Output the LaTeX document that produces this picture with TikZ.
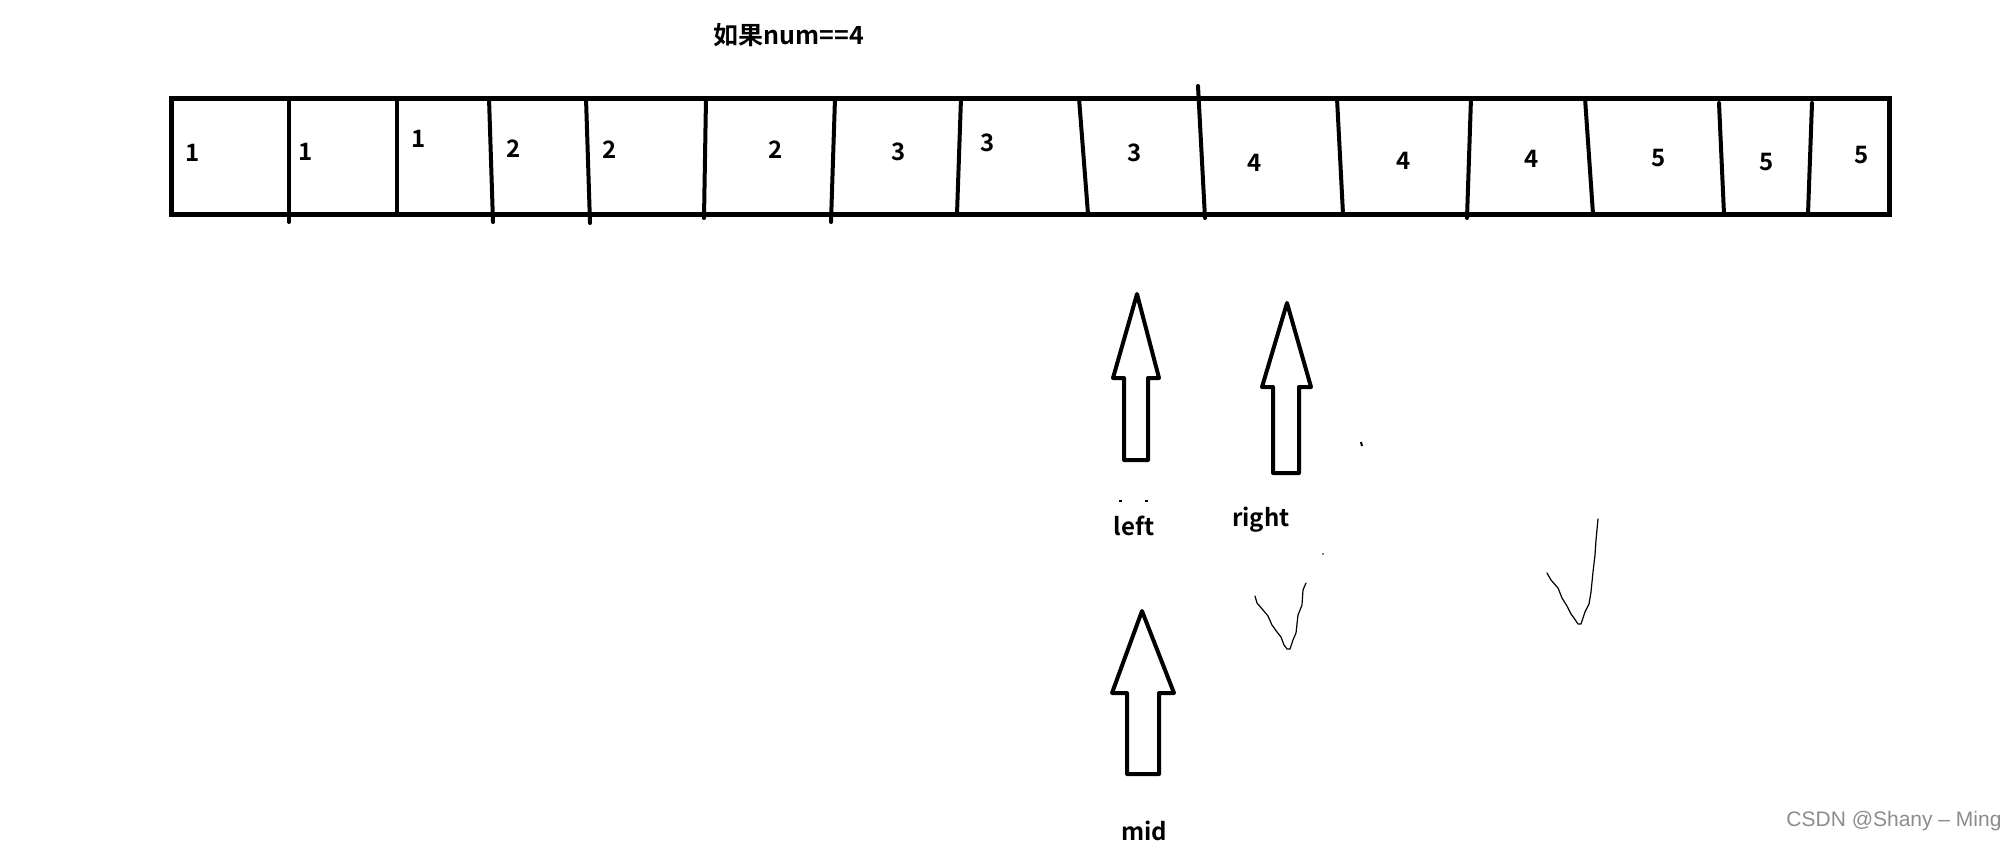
\documentclass[tikz,border=0pt]{standalone}
\usepackage{fontspec}
\setmainfont{Noto Sans CJK SC}[BoldFont={Noto Sans CJK SC Bold}]
\newfontfamily\wmfont{Liberation Sans}
\begin{document}
\begin{tikzpicture}[x=0.5pt,y=-0.5pt,
  frame/.style={line width=2.5pt},
  divider/.style={line width=2pt,line cap=round},
  bigarrow/.style={line width=2pt,line join=round},
  cellnum/.style={font=\bfseries\fontsize{12}{14}\selectfont,inner sep=0pt},
  ptrlabel/.style={font=\bfseries\fontsize{12}{14}\selectfont,inner sep=0pt},
  tick/.style={line width=0.6pt,line cap=round,line join=round},
  speck/.style={line width=1pt}]
\useasboundingbox (0,0) rectangle (2014,842);
% title
\node[font=\bfseries\fontsize{12.5}{15}\selectfont,inner sep=0pt] (title) at (789,35) {如果num==4};
% array frame
\draw[frame] (171,98) rectangle (1889,214);
% dividers
\draw[divider] (289,98) -- (289,222);
\draw[divider] (397,98) -- (397,214);
\draw[divider] (489,98) -- (493,222);
\draw[divider] (586,98) -- (590,223);
\draw[divider] (706,98) -- (704,218);
\draw[divider] (835,98) -- (831,222);
\draw[divider] (961,98) -- (957,214);
\draw[divider] (1079,98) -- (1088,214);
\draw[divider] (1198,86) -- (1205,218);
\draw[divider] (1337,98) -- (1343,214);
\draw[divider] (1471,98) -- (1467,218);
\draw[divider] (1585,98) -- (1593,214);
\draw[divider] (1719,103) -- (1724,214);
\draw[divider] (1812,103) -- (1808,214);
% cell values
\node[cellnum] (c1)  at (193,153) {1};
\node[cellnum] (c2)  at (306,152) {1};
\node[cellnum] (c3)  at (419,139) {1};
\node[cellnum] (c4)  at (514,149) {2};
\node[cellnum] (c5)  at (610,150) {2};
\node[cellnum] (c6)  at (776,150) {2};
\node[cellnum] (c7)  at (899,152) {3};
\node[cellnum] (c8)  at (988,143) {3};
\node[cellnum] (c9)  at (1135,153) {3};
\node[cellnum] (c10) at (1255,163) {4};
\node[cellnum] (c11) at (1404,161) {4};
\node[cellnum] (c12) at (1532,159) {4};
\node[cellnum] (c13) at (1659,158) {5};
\node[cellnum] (c14) at (1767,162) {5};
\node[cellnum] (c15) at (1862,155) {5};
% left arrow
\draw[bigarrow] (1137,294) -- (1159,378) -- (1148,378) -- (1148,460) -- (1124,460) -- (1124,378) -- (1113,378) -- cycle;
% right arrow
\draw[bigarrow] (1287,303) -- (1311,387) -- (1299,387) -- (1299,473) -- (1273,473) -- (1273,387) -- (1262,387) -- cycle;
% mid arrow
\draw[bigarrow] (1142,611) -- (1174,693) -- (1159,693) -- (1159,774) -- (1127,774) -- (1127,693) -- (1112,693) -- cycle;
% labels
\node[ptrlabel] (left)  at (1134,526) {left};
\node[ptrlabel] (right) at (1261,520) {right};
\node[ptrlabel] (mid)   at (1144,831) {mid};
% small specks
\draw[speck] (1119,501) -- (1122,501);
\draw[speck] (1145,501) -- (1148,501);
\draw[speck] (1361,442) -- (1362,446);
\fill (1323,554) circle (0.8);
% hand-drawn ticks
\draw[tick] (1255,596) -- (1257,603) -- (1263,610) -- (1268,616) -- (1272,625) -- (1277,632) -- (1281,637) -- (1284,645) -- (1287,649) -- (1290,649) -- (1293,640) -- (1296,633) -- (1298,615) -- (1302,605) -- (1303,590) -- (1306,583);
\draw[tick] (1547,573) -- (1551,580) -- (1558,588) -- (1562,598) -- (1567,606) -- (1571,614) -- (1574,618) -- (1578,624) -- (1581,624) -- (1585,612) -- (1589,604) -- (1591,592) -- (1593,572) -- (1595,555) -- (1596,540) -- (1598,519);
% watermark
\node[font=\wmfont\fontsize{10.5}{12}\selectfont,text=black!45,inner sep=0pt] (wm) at (1894,821) {CSDN @Shany – Ming};
\end{tikzpicture}
\end{document}
